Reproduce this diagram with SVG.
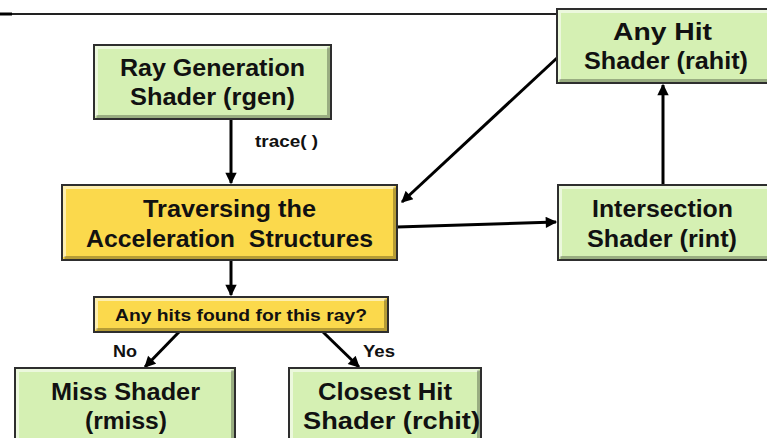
<svg xmlns="http://www.w3.org/2000/svg" width="767" height="438" viewBox="0 0 767 438">
  <style>
    .box { stroke: #2e2e2e; stroke-width: 2; }
    .green { fill: #d5f0b3; }
    .yellow { fill: #fbd94c; }
    .hi { fill: none; stroke: #ffffff; stroke-opacity: 0.55; stroke-width: 3; }
    .sh { fill: none; stroke: #000000; stroke-opacity: 0.28; stroke-width: 3; }
    .label { font-family: "Liberation Sans", Arial, sans-serif; font-weight: bold; fill: #111111; }
    .big { font-size: 23.5px; }
    .mid { font-size: 17px; }
    .small { font-size: 16px; }
    .wire { stroke: #000000; stroke-width: 3; fill: none; }
  </style>
  <defs>
    <marker id="arrow" viewBox="0 0 10 10" refX="9" refY="5" markerWidth="4.2" markerHeight="3.8" orient="auto" markerUnits="strokeWidth">
      <path d="M0,0 L10,5 L0,10 Z" fill="#000000"/>
    </marker>
  </defs>

  <rect width="767" height="438" fill="#ffffff"/>

  <!-- header rule -->
  <line x1="0" y1="14" x2="12" y2="14" stroke="#000" stroke-width="3"/>
  <line x1="12" y1="14" x2="558" y2="14" stroke="#222" stroke-width="2"/>

  <!-- connectors -->
  <g id="connectors">
    <line class="wire" x1="231" y1="119" x2="231" y2="183" marker-end="url(#arrow)"/>
    <line class="wire" x1="557" y1="58" x2="402" y2="202" marker-end="url(#arrow)"/>
    <line class="wire" x1="397" y1="227" x2="556" y2="222" marker-end="url(#arrow)"/>
    <line class="wire" x1="663" y1="185" x2="663" y2="85" marker-end="url(#arrow)"/>
    <line class="wire" x1="231" y1="261" x2="231" y2="295" marker-end="url(#arrow)"/>
    <line class="wire" x1="179" y1="332" x2="145" y2="367" marker-end="url(#arrow)"/>
    <line class="wire" x1="323" y1="332" x2="359" y2="367" marker-end="url(#arrow)"/>
    <text class="label small" x="255" y="147" textLength="63" lengthAdjust="spacingAndGlyphs">trace( )</text>
    <text class="label small" x="113" y="357" textLength="24" lengthAdjust="spacingAndGlyphs">No</text>
    <text class="label small" x="363" y="357" textLength="32" lengthAdjust="spacingAndGlyphs">Yes</text>
  </g>

  <g id="rgen">
    <rect class="box green" x="94" y="45" width="237" height="74"/>
    <path class="hi" d="M96.5,116 V47.5 H328.5"/>
    <path class="sh" d="M96.5,116.5 H328.5 V47.5"/>
    <text class="label big" x="120" y="76" textLength="185" lengthAdjust="spacingAndGlyphs">Ray Generation</text>
    <text class="label big" x="130" y="105" textLength="165" lengthAdjust="spacingAndGlyphs">Shader (rgen)</text>
  </g>

  <g id="traverse">
    <rect class="box yellow" x="62" y="185" width="335" height="75"/>
    <path class="hi" d="M64.5,257 V187.5 H394.5"/>
    <path class="sh" d="M64.5,257.5 H394.5 V187.5"/>
    <text class="label big" x="143" y="217" textLength="173" lengthAdjust="spacingAndGlyphs">Traversing the</text>
    <text class="label big" x="86" y="247" textLength="287" lengthAdjust="spacingAndGlyphs" xml:space="preserve">Acceleration  Structures</text>
  </g>

  <g id="anyhit">
    <rect class="box green" x="557" y="9" width="212" height="74"/>
    <path class="hi" d="M559.5,80 V11.5 H767"/>
    <path class="sh" d="M559.5,80.5 H767"/>
    <text class="label big" x="613" y="40" textLength="99" lengthAdjust="spacingAndGlyphs">Any Hit</text>
    <text class="label big" x="584" y="69" textLength="164" lengthAdjust="spacingAndGlyphs">Shader (rahit)</text>
  </g>

  <g id="rint">
    <rect class="box green" x="558" y="185" width="211" height="75"/>
    <path class="hi" d="M560.5,257 V187.5 H767"/>
    <path class="sh" d="M560.5,257.5 H767"/>
    <text class="label big" x="592" y="217" textLength="141" lengthAdjust="spacingAndGlyphs">Intersection</text>
    <text class="label big" x="587" y="247" textLength="150" lengthAdjust="spacingAndGlyphs">Shader (rint)</text>
  </g>

  <g id="decision">
    <rect class="box yellow" x="94" y="297" width="294" height="35"/>
    <path class="hi" d="M96.5,329.5 V299.5 H385.5"/>
    <path class="sh" d="M96.5,329.5 H385.5 V299.5"/>
    <text class="label mid" x="115" y="321" textLength="252" lengthAdjust="spacingAndGlyphs">Any hits found for this ray?</text>
  </g>

  <g id="rmiss">
    <rect class="box green" x="15" y="368" width="220" height="75"/>
    <path class="hi" d="M17.5,440 V370.5 H232.5"/>
    <path class="sh" d="M232.5,370.5 V440"/>
    <text class="label big" x="51" y="400" textLength="149" lengthAdjust="spacingAndGlyphs">Miss Shader</text>
    <text class="label big" x="85" y="429" textLength="82" lengthAdjust="spacingAndGlyphs">(rmiss)</text>
  </g>

  <g id="rchit">
    <rect class="box green" x="289" y="368" width="192" height="75"/>
    <path class="hi" d="M291.5,440 V370.5 H478.5"/>
    <path class="sh" d="M478.5,370.5 V440"/>
    <text class="label big" x="318" y="400" textLength="134" lengthAdjust="spacingAndGlyphs">Closest Hit</text>
    <text class="label big" x="303" y="429" textLength="177" lengthAdjust="spacingAndGlyphs">Shader (rchit)</text>
  </g>
</svg>
